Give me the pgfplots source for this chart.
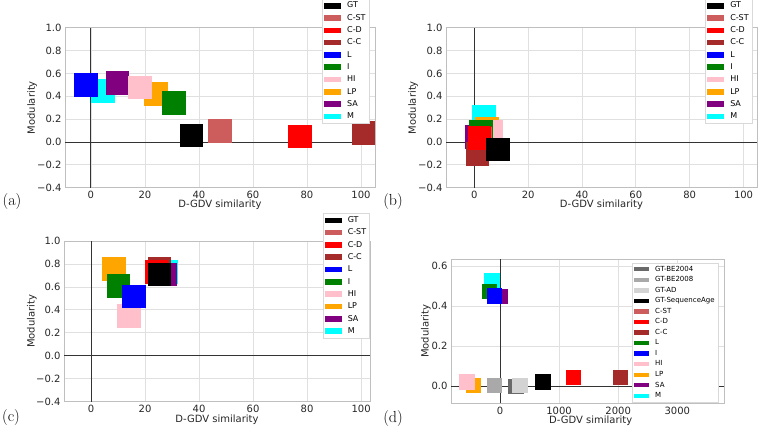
\documentclass[border=0pt]{standalone}
\usepackage{fontspec}
\usepackage{pgfplots}
\pgfplotsset{compat=1.18}
\newfontfamily\dejavu{DejaVu Sans}

% matplotlib named colours
\definecolor{mblack}{HTML}{000000}
\definecolor{mindianred}{HTML}{CD5C5C}
\definecolor{mred}{HTML}{FF0000}
\definecolor{mbrown}{HTML}{A52A2A}
\definecolor{mblue}{HTML}{0000FF}
\definecolor{mgreen}{HTML}{008000}
\definecolor{mpink}{HTML}{FFC0CB}
\definecolor{morange}{HTML}{FFA500}
\definecolor{mpurple}{HTML}{800080}
\definecolor{mcyan}{HTML}{00FFFF}
\definecolor{mdimgray}{HTML}{696969}
\definecolor{mdarkgray}{HTML}{A9A9A9}
\definecolor{mlightgray}{HTML}{D3D3D3}

\tikzset{zeroline/.style={draw=black!80, line width=0.9pt}}

\pgfplotsset{
  panel/.style={
    scale only axis, anchor=south west,
    clip marker paths=true,
    grid=major,
    grid style={draw=black!12, line width=0.8pt},
    axis line style={draw=black!25, line width=0.8pt},
    major tick length=0pt,
    tick label style={font=\dejavu\fontsize{10}{12}\selectfont, text=black!85},
    label style={font=\dejavu\fontsize{10}{12}\selectfont, text=black!85},
    xlabel={D-GDV similarity}, ylabel={Modularity},
    xlabel style={anchor=center}, ylabel style={anchor=center},
    legend cell align=left,
    legend style={draw=black!15, fill=white, anchor=north west,
      inner xsep=2pt, inner ysep=1pt, row sep=0pt,
      /tikz/every odd column/.append style={column sep=4.8pt}},
  },
  bigleg/.style={
    legend image code/.code={\fill[##1, draw=none] (0pt,-2.8pt) rectangle (17pt,2.8pt);},
    legend style={font=\dejavu\fontsize{8}{9}\selectfont,
      nodes={inner sep=1.2pt, minimum height=12.3pt}},
  },
  smallleg/.style={
    legend image code/.code={\fill[##1, draw=none] (0pt,-2.2pt) rectangle (15pt,2.2pt);},
    legend style={font=\dejavu\fontsize{7}{8}\selectfont,
      nodes={inner sep=1.2pt, minimum height=10.55pt}},
  },
  sq/.style={forget plot, only marks, mark=square*, mark size=11.3pt, color=#1},
  sqs/.style={forget plot, only marks, mark=square*, mark size=7.1pt, color=#1},
  ticksabc/.style={
    xmin=-9.6, xmax=105.2, ymin=-0.4, ymax=1.0,
    xtick={0,20,40,60,80,100}, xticklabels={0,20,40,60,80,100},
    ytick={-0.4,-0.2,0,0.2,0.4,0.6,0.8,1.0},
    yticklabels={−0.4,−0.2,0.0,0.2,0.4,0.6,0.8,1.0},
  },
}

\newcommand{\legendabc}{%
  \addlegendimage{fill=mblack}\addlegendentry{GT}
  \addlegendimage{fill=mindianred}\addlegendentry{C-ST}
  \addlegendimage{fill=mred}\addlegendentry{C-D}
  \addlegendimage{fill=mbrown}\addlegendentry{C-C}
  \addlegendimage{fill=mblue}\addlegendentry{L}
  \addlegendimage{fill=mgreen}\addlegendentry{I}
  \addlegendimage{fill=mpink}\addlegendentry{HI}
  \addlegendimage{fill=morange}\addlegendentry{LP}
  \addlegendimage{fill=mpurple}\addlegendentry{SA}
  \addlegendimage{fill=mcyan}\addlegendentry{M}
}

\begin{document}
\begin{tikzpicture}[x=1pt,y=1pt]
\useasboundingbox (0,0) rectangle (760,432);

% ---------- (a)
\begin{axis}[panel, bigleg, ticksabc, at={(65pt,244.3pt)}, width=310pt, height=160pt,
  xlabel style={at={(axis description cs:0.5,-0.108)}},
  ylabel style={at={(axis description cs:-0.106,0.5)}},
  legend style={at={(axis description cs:0.829,1.183)}},
]
\draw[zeroline] (axis cs:0,-0.4) -- (axis cs:0,1.0);
\draw[zeroline] (axis cs:-9.6,0) -- (axis cs:105.2,0);
\addplot[sq=mcyan] coordinates {(4.4,0.45)};
\addplot[sq=mpurple] coordinates {(9.7,0.52)};
\addplot[sq=morange] coordinates {(24.0,0.42)};
\addplot[sq=mpink] coordinates {(18.1,0.48)};
\addplot[sq=mgreen] coordinates {(30.6,0.345)};
\addplot[sq=mblue] coordinates {(-2.0,0.50)};
\addplot[sq=mbrown] coordinates {(100.9,0.08)};
\addplot[sq=mred] coordinates {(77.4,0.05)};
\addplot[sq=mindianred] coordinates {(47.7,0.10)};
\addplot[sq=mblack] coordinates {(37.2,0.06)};
\legendabc
\end{axis}

% ---------- (b)
\begin{axis}[panel, bigleg, ticksabc, at={(446pt,244.3pt)}, width=311pt, height=160pt,
  xmin=-10.5, xmax=105,
  xlabel style={at={(axis description cs:0.5,-0.108)}},
  ylabel style={at={(axis description cs:-0.106,0.5)}},
  legend style={at={(axis description cs:0.833,1.183)}},
]
\draw[zeroline] (axis cs:0,-0.4) -- (axis cs:0,1.0);
\draw[zeroline] (axis cs:-10.5,0) -- (axis cs:105,0);
\addplot[sq=mcyan] coordinates {(3.4,0.22)};
\addplot[sq=mpurple] coordinates {(0.9,0.045)};
\addplot[sq=morange] coordinates {(4.6,0.12)};
\addplot[sq=mpink] coordinates {(6.2,0.095)};
\addplot[sq=mblue] coordinates {(2.5,0.06)};
\addplot[sq=mgreen] coordinates {(2.4,0.095)};
\addplot[sq=mindianred] coordinates {(2.2,0.03)};
\addplot[sq=mbrown] coordinates {(1.1,-0.10)};
\addplot[sq=mred] coordinates {(1.9,0.04)};
\addplot[sq=mblack] coordinates {(8.6,-0.064)};
\legendabc
\end{axis}

% ---------- (c)
\begin{axis}[panel, bigleg, ticksabc, at={(64pt,30.3pt)}, width=306pt, height=160.7pt,
  xmin=-10, xmax=103.3,
  xlabel style={at={(axis description cs:0.5,-0.115)}},
  ylabel style={at={(axis description cs:-0.105,0.5)}},
  legend style={at={(axis description cs:0.845,1.174)}},
]
\draw[zeroline] (axis cs:0,-0.4) -- (axis cs:0,1.0);
\draw[zeroline] (axis cs:-10,0) -- (axis cs:103.3,0);
\addplot[sq=mcyan] coordinates {(27.7,0.73)};
\addplot[sq=mpurple] coordinates {(27.2,0.71)};
\addplot[sq=morange] coordinates {(8.3,0.76)};
\addplot[sq=mpink] coordinates {(14.0,0.35)};
\addplot[sq=mgreen] coordinates {(10.1,0.61)};
\addplot[sq=mblue] coordinates {(15.8,0.52)};
\addplot[sq=mbrown] coordinates {(25.2,0.76)};
\addplot[sq=mred] coordinates {(24.1,0.73)};
\addplot[sq=mindianred] coordinates {(25.3,0.71)};
\addplot[sq=mblack] coordinates {(25.3,0.71)};
\legendabc
\end{axis}

% ---------- (d)
\begin{axis}[panel, smallleg, at={(451pt,28.7pt)}, width=273pt, height=144pt,
  xmin=-829, xmax=3790, ymin=-0.085, ymax=0.635,
  xtick={0,1000,2000,3000}, xticklabels={0,1000,2000,3000},
  ytick={0,0.2,0.4,0.6}, yticklabels={0.0,0.2,0.4,0.6},
  xlabel style={at={(axis description cs:0.512,-0.118)}},
  ylabel style={at={(axis description cs:-0.092,0.5)}},
  legend style={at={(axis description cs:0.663,0.976)}},
]
\draw[zeroline] (axis cs:0,-0.085) -- (axis cs:0,0.635);
\draw[zeroline] (axis cs:-829,0) -- (axis cs:3790,0);
\addplot[sqs=mcyan] coordinates {(-141,0.53)};
\addplot[sqs=mpurple] coordinates {(-6,0.45)};
\addplot[sqs=morange] coordinates {(-452,0.005)};
\addplot[sqs=mpink] coordinates {(-565,0.023)};
\addplot[sqs=mgreen] coordinates {(-186,0.475)};
\addplot[sqs=mblue] coordinates {(-102,0.453)};
\addplot[sqs=mbrown] coordinates {(2034,0.047)};
\addplot[sqs=mred] coordinates {(1232,0.045)};
\addplot[sqs=mindianred] coordinates {(3412,0.047)};
\addplot[sqs=mblack] coordinates {(723,0.023)};
\addplot[sqs=mdimgray] coordinates {(266,0.0)};
\addplot[sqs=mlightgray] coordinates {(333,0.005)};
\addplot[sqs=mdarkgray] coordinates {(-100,0.005)};
\addlegendimage{fill=mdimgray}\addlegendentry{GT-BE2004}
\addlegendimage{fill=mdarkgray}\addlegendentry{GT-BE2008}
\addlegendimage{fill=mlightgray}\addlegendentry{GT-AD}
\addlegendimage{fill=mblack}\addlegendentry{GT-SequenceAge}
\addlegendimage{fill=mindianred}\addlegendentry{C-ST}
\addlegendimage{fill=mred}\addlegendentry{C-D}
\addlegendimage{fill=mbrown}\addlegendentry{C-C}
\addlegendimage{fill=mgreen}\addlegendentry{L}
\addlegendimage{fill=mblue}\addlegendentry{I}
\addlegendimage{fill=mpink}\addlegendentry{HI}
\addlegendimage{fill=morange}\addlegendentry{LP}
\addlegendimage{fill=mpurple}\addlegendentry{SA}
\addlegendimage{fill=mcyan}\addlegendentry{M}
\end{axis}

\node[font=\fontsize{16}{18}\selectfont] at (12,230) {(a)};
\node[font=\fontsize{16}{18}\selectfont] at (393,230) {(b)};
\node[font=\fontsize{16}{18}\selectfont] at (11,14) {(c)};
\node[font=\fontsize{16}{18}\selectfont] at (393,13) {(d)};
\end{tikzpicture}
\end{document}
